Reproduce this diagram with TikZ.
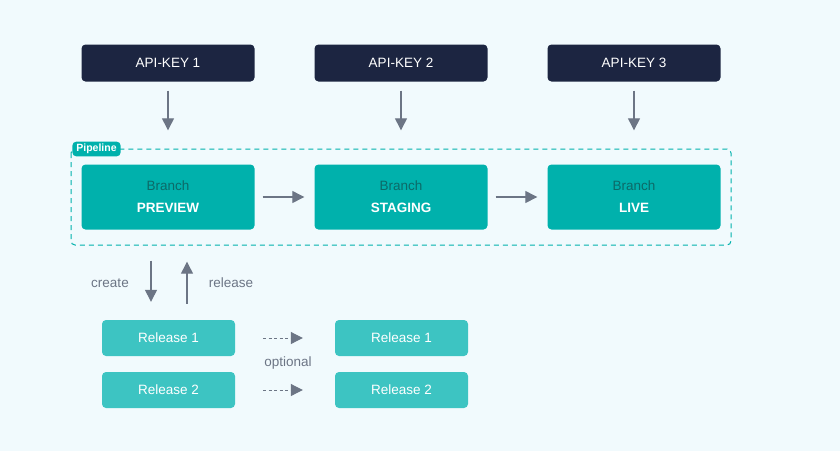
\documentclass[tikz,border=0pt]{standalone}
\usepackage{fontspec}
\setmainfont{Liberation Sans}
\usetikzlibrary{arrows.meta}
\definecolor{bgblue}{HTML}{F1FAFD}
\definecolor{keynavy}{HTML}{1C2541}
\definecolor{branchteal}{HTML}{00B1AC}
\definecolor{releaseteal}{HTML}{3DC4C2}
\definecolor{arrowgray}{HTML}{6C7585}
\definecolor{darkteal}{HTML}{0C6A68}
\tikzset{
    keybox/.style={fill=keynavy, rounded corners=4pt, minimum width=173pt, minimum height=37pt,
        text=white, font=\fontsize{13.5}{15}\selectfont},
    branchbox/.style={fill=branchteal, rounded corners=4pt, minimum width=173pt, minimum height=65pt,
        align=center, font=\fontsize{13.5}{22}\selectfont},
    relbox/.style={fill=releaseteal, rounded corners=4pt, minimum width=133pt, minimum height=36pt,
        text=white, font=\fontsize{13.5}{15}\selectfont},
    flow/.style={draw=arrowgray, line width=1.3pt, -{Triangle[length=12pt,width=12pt]}},
    maybeflow/.style={flow, dash pattern=on 3pt off 2.5pt, line width=1pt},
    lbl/.style={text=arrowgray, font=\fontsize{13.5}{15}\selectfont}
}
\begin{document}
\begin{tikzpicture}[x=1pt,y=-1pt]
    % background
    \fill[bgblue] (0,0) rectangle (840,451);
    \useasboundingbox (0,0) rectangle (840,451);

    % pipeline frame
    \draw[branchteal, line width=1pt, dash pattern=on 5pt off 4pt, rounded corners=4pt]
        (71,149) rectangle (731,245);
    \node[fill=branchteal, rounded corners=4pt, text=white, inner xsep=4pt, inner ysep=2.5pt,
        font=\fontsize{10.5}{12}\selectfont\bfseries] (pipe) at (96.5,149) {Pipeline};

    % keys and branches
    \foreach \i/\name/\x in {1/PREVIEW/168, 2/STAGING/401, 3/LIVE/634} {
        \node[keybox] (key\i) at (\x,63) {API-KEY \i};
        \node[branchbox] (br\i) at (\x,197)
            {\textcolor{darkteal}{Branch}\\\textcolor{white}{\bfseries \name}};
        \draw[flow, shorten <=9pt, shorten >=34pt] (key\i) -- (br\i);
    }
    \draw[flow, shorten <=8pt, shorten >=10pt] (br1) -- (br2);
    \draw[flow, shorten <=8pt, shorten >=10pt] (br2) -- (br3);

    % releases
    \node[relbox] (relA1) at (168.5,338) {Release 1};
    \node[relbox] (relA2) at (168.5,390) {Release 2};
    \node[relbox] (relB1) at (401.5,338) {Release 1};
    \node[relbox] (relB2) at (401.5,390) {Release 2};

    \draw[flow, shorten <=31pt, shorten >=18pt] ([xshift=-17pt]br1.south) -- ([xshift=-17.5pt]relA1.north);
    \draw[flow, shorten <=16pt, shorten >=32pt] ([xshift=18.5pt]relA1.north) -- ([xshift=19pt]br1.south);
    \node[lbl] (create) at (110,283) {create};
    \node[lbl] (release) at (231,283) {release};

    \draw[maybeflow, shorten <=28pt, shorten >=32pt] (relA1) -- (relB1);
    \draw[maybeflow, shorten <=28pt, shorten >=32pt] (relA2) -- (relB2);
    \node[lbl] (opt) at (288,363) {optional};
\end{tikzpicture}
\end{document}
